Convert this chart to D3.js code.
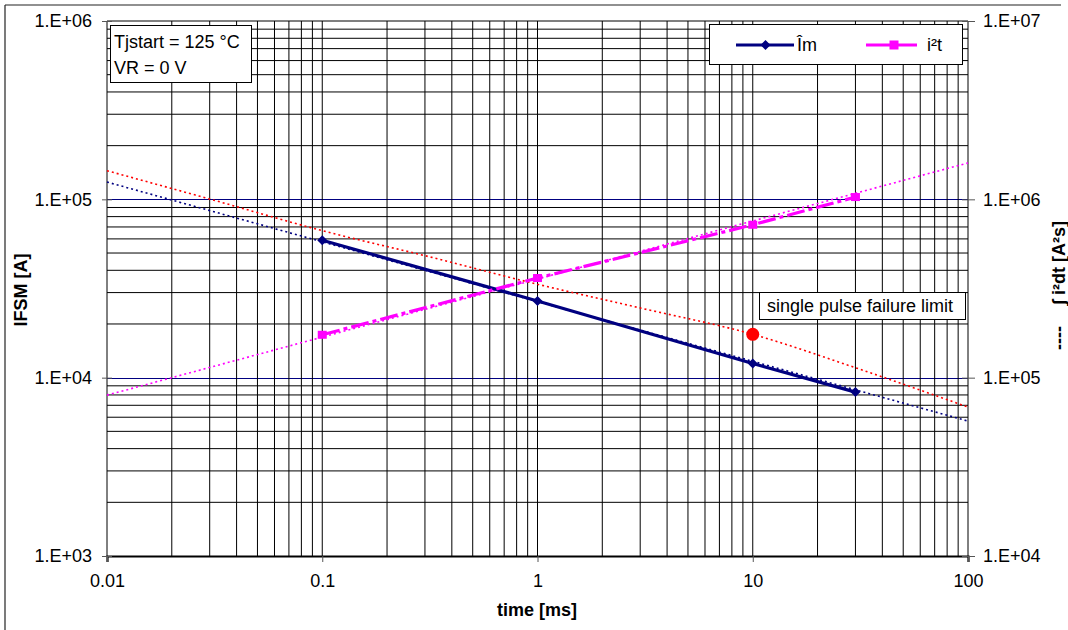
<!DOCTYPE html>
<html>
<head>
<meta charset="utf-8">
<script src="https://cdn.jsdelivr.net/npm/d3@7"></script>
<style>
  html, body { margin: 0; padding: 0; background: #fff; }
  svg { display: block; font-family: "Liberation Sans", Arial, sans-serif; }
</style>
</head>
<body>
<svg id="chart" width="1068" height="630"></svg>
<script>
// Pulse durations (ms) of the measured points
const pulseTimes = [0.1, 1, 10, 30];
// Peak surge current Îm [A] (left axis)
const peakCurrent = [59000, 26900, 12000, 8300];
// Limiting load integral i²t [A²s] (right axis)
const i2tValues = [174000, 362000, 720000, 1030000];

// Trend lines across the full time range (ends at 0.01 ms and 100 ms)
const trendTimes = [0.01, 100];
const peakCurrentTrend = [125000, 5710];
const i2tTrend = [79800, 1600000];

// Single pulse failure limit curve [A] (left axis)
const limitTimes = [0.01, 0.03, 0.1, 0.3, 1, 3, 10, 30, 100];
const limitCurrent = [144700, 100400, 66700, 48300, 33400, 24600, 17500, 11370, 6840];
// Marked failure point
const failurePoint = { t: 10, v: 17500 };

// Axis ticks
const xTicks = [0.01, 0.1, 1, 10, 100];
const xTickLabels = ["0.01", "0.1", "1", "10", "100"];
const yLeftTicks = [1e3, 1e4, 1e5, 1e6];
const yLeftTickLabels = ["1.E+03", "1.E+04", "1.E+05", "1.E+06"];
const yRightTicks = [1e4, 1e5, 1e6, 1e7];
const yRightTickLabels = ["1.E+04", "1.E+05", "1.E+06", "1.E+07"];

const svg = d3.select("#chart");
const plot = { left: 107, right: 968, top: 21, bottom: 556 };

const x = d3.scaleLog().domain([0.01, 100]).range([plot.left, plot.right]);
const yL = d3.scaleLog().domain([1e3, 1e6]).range([plot.bottom, plot.top]);
const yR = d3.scaleLog().domain([1e4, 1e7]).range([plot.bottom, plot.top]);

// Outer chart frame
svg.append("line").attr("x1", 5).attr("y1", 5).attr("x2", 1061).attr("y2", 5)
  .attr("stroke", "#222").attr("stroke-width", 1.2);
svg.append("line").attr("x1", 5).attr("y1", 5).attr("x2", 5).attr("y2", 630)
  .attr("stroke", "#222").attr("stroke-width", 1.2);

// Minor values for the log grid
function minorValues(lo, hi) {
  const out = [];
  for (let e = Math.log10(lo); e < Math.log10(hi); e++) {
    for (let m = 2; m <= 9; m++) out.push(m * Math.pow(10, e));
  }
  return out;
}

const grid = svg.append("g");
// Horizontal minor gridlines
grid.selectAll(".hg").data(minorValues(1e3, 1e6)).enter().append("line")
  .attr("x1", plot.left).attr("x2", plot.right)
  .attr("y1", d => yL(d)).attr("y2", d => yL(d))
  .attr("stroke", "#000").attr("stroke-width", 1);
// Horizontal major gridlines
grid.selectAll(".hm").data([1e4, 1e5]).enter().append("line")
  .attr("x1", plot.left).attr("x2", plot.right)
  .attr("y1", d => Math.round(yL(d)) + 0.5).attr("y2", d => Math.round(yL(d)) + 0.5)
  .attr("stroke", "#000080").attr("stroke-width", 1);
// Vertical gridlines
grid.selectAll(".vg").data(minorValues(0.01, 100).concat([0.1, 1, 10])).enter().append("line")
  .attr("y1", plot.top).attr("y2", plot.bottom)
  .attr("x1", d => x(d)).attr("x2", d => x(d))
  .attr("stroke", "#000").attr("stroke-width", 1);

// Plot border
svg.append("line").attr("x1", plot.left).attr("x2", plot.right).attr("y1", plot.top).attr("y2", plot.top)
  .attr("stroke", "#000").attr("stroke-width", 1);
svg.append("line").attr("x1", plot.left).attr("x2", plot.left).attr("y1", plot.top).attr("y2", plot.bottom)
  .attr("stroke", "#000").attr("stroke-width", 1);
svg.append("line").attr("x1", plot.right).attr("x2", plot.right).attr("y1", plot.top).attr("y2", plot.bottom)
  .attr("stroke", "#000").attr("stroke-width", 1);

// Axes
const fontSize = 18;
const xAxis = d3.axisBottom(x).tickValues(xTicks).tickFormat((d, i) => xTickLabels[i])
  .tickSize(6).tickPadding(12);
const gx = svg.append("g").attr("transform", `translate(0,${plot.bottom})`).call(xAxis);
gx.select(".domain").attr("stroke", "#000").attr("stroke-width", 2.2);

const yAxisL = d3.axisLeft(yL).tickValues(yLeftTicks).tickFormat((d, i) => yLeftTickLabels[i])
  .tickSize(5).tickPadding(10);
const gyl = svg.append("g").attr("transform", `translate(${plot.left},0)`).call(yAxisL);
gyl.select(".domain").remove();

const yAxisR = d3.axisRight(yR).tickValues(yRightTicks).tickFormat((d, i) => yRightTickLabels[i])
  .tickSize(7).tickPadding(8);
const gyr = svg.append("g").attr("transform", `translate(${plot.right},0)`).call(yAxisR);
gyr.select(".domain").remove();

[gx, gyl, gyr].forEach(g => {
  g.selectAll("text").attr("font-size", fontSize).attr("fill", "#000")
    .attr("font-family", "'Liberation Sans', Arial, sans-serif");
  g.selectAll(".tick line").attr("stroke", "#555");
});
// ticks cross the axis lines on the value axes
gyl.selectAll(".tick line").attr("x1", 5);
gyr.selectAll(".tick line").attr("x1", -6);

// Axis titles
svg.append("text").attr("x", 537).attr("y", 616).attr("text-anchor", "middle")
  .attr("font-size", 18).attr("font-weight", "bold").text("time [ms]");
svg.append("text").attr("transform", "translate(27,290) rotate(-90)").attr("text-anchor", "middle")
  .attr("font-size", 18).attr("font-weight", "bold").text("IFSM [A]");
svg.append("text").attr("transform", "translate(1065,263) rotate(-90)").attr("text-anchor", "middle")
  .attr("font-size", 18).attr("font-weight", "bold").text("\u222B i\u00B2dt [A\u00B2s]");
svg.append("text").attr("transform", "translate(1065,338) rotate(-90)").attr("text-anchor", "middle")
  .attr("font-size", 18).attr("font-weight", "bold").text("----");

const marks = svg.append("g");

// Dotted trend lines
const lineL = d3.line().x(d => x(d[0])).y(d => yL(d[1]));
const lineR = d3.line().x(d => x(d[0])).y(d => yR(d[1]));

marks.append("path").datum(trendTimes.map((t, i) => [t, peakCurrentTrend[i]]))
  .attr("d", lineL).attr("fill", "none").attr("stroke", "#000080")
  .attr("stroke-width", 1.6).attr("stroke-dasharray", "2,3");
marks.append("path").datum(trendTimes.map((t, i) => [t, i2tTrend[i]]))
  .attr("d", lineR).attr("fill", "none").attr("stroke", "#ff00ff")
  .attr("stroke-width", 1.6).attr("stroke-dasharray", "2,3");
marks.append("path").datum(limitTimes.map((t, i) => [t, limitCurrent[i]]))
  .attr("d", lineL.curve(d3.curveMonotoneX)).attr("fill", "none").attr("stroke", "#ff0000")
  .attr("stroke-width", 1.6).attr("stroke-dasharray", "2,3");

// Îm series
const imData = pulseTimes.map((t, i) => [t, peakCurrent[i]]);
marks.append("path").datum(imData)
  .attr("d", d3.line().x(d => x(d[0])).y(d => yL(d[1])))
  .attr("fill", "none").attr("stroke", "#000080").attr("stroke-width", 3.2);
function diamond(cx, cy, r) {
  return `M${cx},${cy - r}L${cx + r},${cy}L${cx},${cy + r}L${cx - r},${cy}Z`;
}
marks.selectAll(".dm").data(imData).enter().append("path")
  .attr("d", d => diamond(x(d[0]), yL(d[1]), 5)).attr("fill", "#000080");

// i²t series
const i2tData = pulseTimes.map((t, i) => [t, i2tValues[i]]);
marks.append("path").datum(i2tData)
  .attr("d", d3.line().x(d => x(d[0])).y(d => yR(d[1])))
  .attr("fill", "none").attr("stroke", "#ff00ff").attr("stroke-width", 3.2)
  .attr("stroke-dasharray", "18,4,4,4");
marks.selectAll(".sq").data(i2tData).enter().append("rect")
  .attr("x", d => x(d[0]) - 4.5).attr("y", d => yR(d[1]) - 4)
  .attr("width", 9).attr("height", 8).attr("fill", "#ff00ff");

// Failure point
marks.append("circle").attr("cx", x(failurePoint.t)).attr("cy", yL(failurePoint.v))
  .attr("r", 6.5).attr("fill", "#ff0000");

// Condition text box
svg.append("rect").attr("x", 110.5).attr("y", 25.5).attr("width", 141).attr("height", 57)
  .attr("fill", "#fff").attr("stroke", "#000").attr("stroke-width", 1);
svg.append("text").attr("x", 114).attr("y", 48).attr("font-size", 18).text("Tjstart = 125 \u00B0C");
svg.append("text").attr("x", 114).attr("y", 74).attr("font-size", 18).text("VR = 0 V");

// Failure limit label
svg.append("rect").attr("x", 759.5).attr("y", 292.5).attr("width", 206).attr("height", 27)
  .attr("fill", "#fff").attr("stroke", "#000").attr("stroke-width", 1);
svg.append("text").attr("x", 767).attr("y", 312).attr("font-size", 18).text("single pulse failure limit");

// Legend
const lg = svg.append("g");
lg.append("rect").attr("x", 709.5).attr("y", 24.5).attr("width", 253).attr("height", 40)
  .attr("fill", "#fff").attr("stroke", "#000").attr("stroke-width", 1);
lg.append("line").attr("x1", 736).attr("x2", 794).attr("y1", 45).attr("y2", 45)
  .attr("stroke", "#000080").attr("stroke-width", 3);
lg.append("path").attr("d", diamond(765.5, 45, 5)).attr("fill", "#000080");
lg.append("text").attr("x", 797).attr("y", 51).attr("font-size", 18).text("\u00CEm");
lg.append("line").attr("x1", 866).attr("x2", 917).attr("y1", 45).attr("y2", 45)
  .attr("stroke", "#ff00ff").attr("stroke-width", 3);
lg.append("rect").attr("x", 889.5).attr("y", 40.5).attr("width", 9).attr("height", 9).attr("fill", "#ff00ff");
lg.append("text").attr("x", 927).attr("y", 51).attr("font-size", 18).text("i\u00B2t");
</script>
</body>
</html>
